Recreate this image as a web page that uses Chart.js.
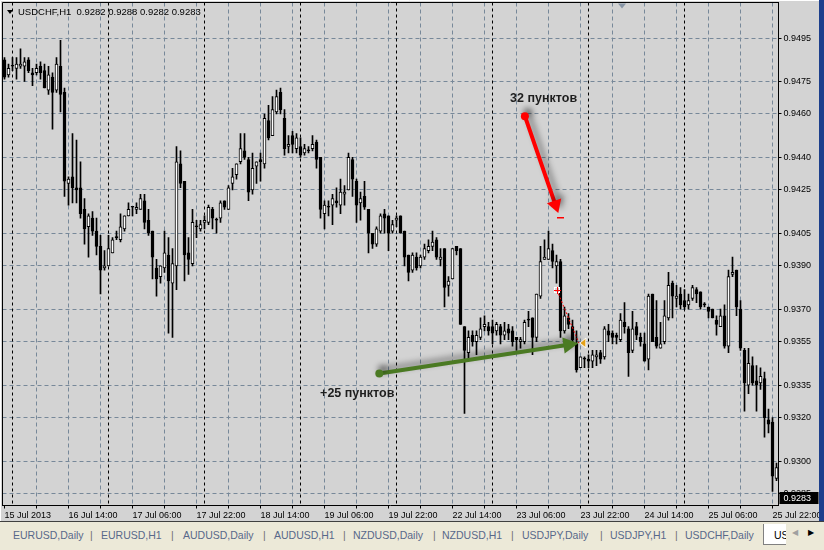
<!DOCTYPE html>
<html>
<head>
<meta charset="utf-8">
<script src="https://cdn.jsdelivr.net/npm/chart.js@4.4.0/dist/chart.umd.min.js"></script>
<style>
  html, body { margin: 0; padding: 0; width: 824px; height: 550px; overflow: hidden; background: #d3d3d3; font-family: "Liberation Sans", Arial, sans-serif; }
  #chartBox { position: absolute; left: 0; top: 0; width: 824px; height: 522px; }
  #edge { position: absolute; left: 819px; top: 0; width: 5px; height: 522px; background: #1c3f8c; }
  #tabs { position: absolute; left: 0; top: 521px; width: 824px; height: 29px; background: #ece9d8; border-top: 1px solid #404040; box-sizing: border-box; }
  #tabs span { position: absolute; top: 7px; font-size: 10.5px; color: #58688a; white-space: nowrap; }
  #tabs .sep { color: #6e6e6e; }
  #active { position: absolute; left: 763px; top: 2px; width: 40px; height: 20px; background: #fff; border: 1px solid #808080; border-top: none; overflow: hidden; }
  #active span { left: 10px; top: 5px; color: #000; }
  #arrows { position: absolute; left: 786px; top: 0; width: 38px; height: 24px; background: #ece9d8; }
  #arrows span { top: 6px; font-size: 8px; }
</style>
</head>
<body>
<div id="chartBox"><canvas id="chart" width="824" height="522"></canvas></div>
<div id="edge"></div>
<div id="tabs">
  <span style="left:13px">EURUSD,Daily</span><span class="sep" style="left:90px">|</span>
  <span style="left:101px">EURUSD,H1</span><span class="sep" style="left:171px">|</span>
  <span style="left:183px">AUDUSD,Daily</span><span class="sep" style="left:263px">|</span>
  <span style="left:274px">AUDUSD,H1</span><span class="sep" style="left:343px">|</span>
  <span style="left:353px">NZDUSD,Daily</span><span class="sep" style="left:433px">|</span>
  <span style="left:442px">NZDUSD,H1</span><span class="sep" style="left:511px">|</span>
  <span style="left:522px">USDJPY,Daily</span><span class="sep" style="left:600px">|</span>
  <span style="left:610px">USDJPY,H1</span><span class="sep" style="left:675px">|</span>
  <span style="left:685px">USDCHF,Daily</span>
  <div id="active"><span>USDCHF,H1</span></div>
  <div id="arrows"><span style="left:6px;color:#a0a0a0">&#9664;</span><span style="left:22px;color:#000">&#9654;</span></div>
</div>
<script>
// USDCHF H1, 15 Jul 22:00 .. 25 Jul 23:00 (one entry per hourly bar)
const xTickLabels = ['15 Jul 2013', '16 Jul 14:00', '17 Jul 06:00', '17 Jul 22:00', '18 Jul 14:00', '19 Jul 06:00',
  '19 Jul 22:00', '22 Jul 14:00', '23 Jul 06:00', '23 Jul 22:00', '24 Jul 14:00', '25 Jul 06:00', '25 Jul 22:00'];
const daySeparators = [2, 26, 50, 74, 98, 122, 146, 170];
const priceLevels = [0.9495, 0.9475, 0.9460, 0.9440, 0.9425, 0.9405, 0.9390, 0.9370, 0.9355, 0.9335, 0.9320, 0.9300, 0.9285];
const priceMin = 0.92795;
const priceMax = 0.95114;
const bid = 0.9283;
const header = 'USDCHF,H1  0.9282 0.9288 0.9282 0.9283';

const opens = [
  0.9485, 0.9478, 0.9482, 0.9481, 0.9482, 0.9482, 0.9485, 0.9479, 0.9479, 0.9482,
  0.9480, 0.9471, 0.9477, 0.9471, 0.9482, 0.9470, 0.9428, 0.9431, 0.9426, 0.9426,
  0.9416, 0.9408, 0.9412, 0.9406, 0.9399, 0.9389, 0.9390, 0.9396, 0.9403, 0.9402,
  0.9407, 0.9413, 0.9417, 0.9416, 0.9416, 0.9420, 0.9411, 0.9406, 0.9389, 0.9385,
  0.9389, 0.9395, 0.9382, 0.9390, 0.9437, 0.9429, 0.9396, 0.9391, 0.9408, 0.9407,
  0.9410, 0.9410, 0.9416, 0.9411, 0.9412, 0.9420, 0.9416, 0.9428, 0.9432, 0.9438,
  0.9443, 0.9439, 0.9425, 0.9436, 0.9439, 0.9437, 0.9457, 0.9450, 0.9461, 0.9470,
  0.9458, 0.9445, 0.9450, 0.9444, 0.9445, 0.9442, 0.9443, 0.9444, 0.9447, 0.9440,
  0.9414, 0.9417, 0.9418, 0.9420, 0.9418, 0.9423, 0.9425, 0.9439, 0.9429, 0.9419,
  0.9422, 0.9416, 0.9405, 0.9400, 0.9406, 0.9414, 0.9413, 0.9406, 0.9411, 0.9413,
  0.9406, 0.9395, 0.9388, 0.9394, 0.9390, 0.9394, 0.9397, 0.9399, 0.9402, 0.9393,
  0.9398, 0.9381, 0.9384, 0.9399, 0.9398, 0.9362, 0.9350, 0.9358, 0.9355, 0.9357,
  0.9362, 0.9362, 0.9362, 0.9360, 0.9362, 0.9358, 0.9361, 0.9360, 0.9357, 0.9355,
  0.9355, 0.9365, 0.9366, 0.9357, 0.9376, 0.9393, 0.9393, 0.9397, 0.9390, 0.9392,
  0.9360, 0.9366, 0.9362, 0.9354, 0.9343, 0.9347, 0.9347, 0.9346, 0.9348, 0.9350,
  0.9348, 0.9360, 0.9359, 0.9358, 0.9356, 0.9364, 0.9361, 0.9351, 0.9362, 0.9357,
  0.9354, 0.9347, 0.9377, 0.9357, 0.9352, 0.9355, 0.9366, 0.9382, 0.9375, 0.9377,
  0.9374, 0.9372, 0.9375, 0.9379, 0.9378, 0.9372, 0.9371, 0.9370, 0.9365, 0.9362,
  0.9367, 0.9353, 0.9386, 0.9388, 0.9370, 0.9351, 0.9335, 0.9344, 0.9337, 0.9336,
  0.9338, 0.9319, 0.9318, 0.9292
];
const highs = [
  0.9486, 0.9483, 0.9486, 0.9486, 0.9490, 0.9486, 0.9486, 0.9481, 0.9483, 0.9484,
  0.9483, 0.9482, 0.9479, 0.9486, 0.9494, 0.9472, 0.9431, 0.9451, 0.9448, 0.9438,
  0.9421, 0.9414, 0.9415, 0.9412, 0.9404, 0.9397, 0.9404, 0.9403, 0.9406, 0.9414,
  0.9413, 0.9419, 0.9417, 0.9419, 0.9423, 0.9423, 0.9416, 0.9406, 0.9393, 0.9390,
  0.9406, 0.9403, 0.9398, 0.9445, 0.9443, 0.9429, 0.9403, 0.9416, 0.9411, 0.9411,
  0.9413, 0.9418, 0.9417, 0.9412, 0.9420, 0.9420, 0.9427, 0.9435, 0.9437, 0.9451,
  0.9451, 0.9440, 0.9442, 0.9438, 0.9442, 0.9460, 0.9464, 0.9468, 0.9471, 0.9472,
  0.9462, 0.9450, 0.9452, 0.9451, 0.9449, 0.9446, 0.9445, 0.9450, 0.9448, 0.9440,
  0.9420, 0.9420, 0.9423, 0.9426, 0.9430, 0.9427, 0.9442, 0.9440, 0.9430, 0.9424,
  0.9429, 0.9416, 0.9405, 0.9408, 0.9414, 0.9416, 0.9413, 0.9411, 0.9413, 0.9413,
  0.9406, 0.9395, 0.9396, 0.9396, 0.9395, 0.9400, 0.9402, 0.9406, 0.9403, 0.9398,
  0.9398, 0.9385, 0.9398, 0.9399, 0.9398, 0.9362, 0.9360, 0.9360, 0.9360, 0.9366,
  0.9367, 0.9364, 0.9365, 0.9364, 0.9363, 0.9364, 0.9363, 0.9362, 0.9357, 0.9357,
  0.9365, 0.9369, 0.9366, 0.9377, 0.9399, 0.9402, 0.9406, 0.9400, 0.9395, 0.9393,
  0.9371, 0.9368, 0.9365, 0.9360, 0.9348, 0.9348, 0.9349, 0.9351, 0.9351, 0.9351,
  0.9362, 0.9363, 0.9360, 0.9359, 0.9368, 0.9373, 0.9362, 0.9369, 0.9364, 0.9359,
  0.9359, 0.9377, 0.9377, 0.9374, 0.9364, 0.9374, 0.9387, 0.9383, 0.9381, 0.9380,
  0.9379, 0.9377, 0.9381, 0.9380, 0.9378, 0.9373, 0.9371, 0.9370, 0.9367, 0.9370,
  0.9372, 0.9388, 0.9394, 0.9388, 0.9374, 0.9352, 0.9352, 0.9348, 0.9344, 0.9343,
  0.9341, 0.9324, 0.9320, 0.9299
];
const lows = [
  0.9476, 0.9477, 0.9480, 0.9476, 0.9481, 0.9475, 0.9479, 0.9473, 0.9478, 0.9476,
  0.9472, 0.9469, 0.9453, 0.9470, 0.9461, 0.9422, 0.9418, 0.9419, 0.9419, 0.9412,
  0.9400, 0.9394, 0.9404, 0.9395, 0.9377, 0.9388, 0.9390, 0.9396, 0.9402, 0.9401,
  0.9406, 0.9413, 0.9413, 0.9414, 0.9416, 0.9407, 0.9404, 0.9384, 0.9376, 0.9382,
  0.9387, 0.9359, 0.9357, 0.9379, 0.9426, 0.9383, 0.9386, 0.9390, 0.9403, 0.9406,
  0.9407, 0.9409, 0.9407, 0.9405, 0.9410, 0.9416, 0.9416, 0.9425, 0.9430, 0.9437,
  0.9439, 0.9420, 0.9423, 0.9428, 0.9429, 0.9435, 0.9448, 0.9450, 0.9460, 0.9460,
  0.9441, 0.9442, 0.9442, 0.9442, 0.9440, 0.9441, 0.9442, 0.9443, 0.9435, 0.9412,
  0.9407, 0.9413, 0.9409, 0.9417, 0.9414, 0.9418, 0.9425, 0.9422, 0.9410, 0.9411,
  0.9416, 0.9396, 0.9398, 0.9399, 0.9405, 0.9405, 0.9397, 0.9405, 0.9408, 0.9405,
  0.9390, 0.9383, 0.9387, 0.9388, 0.9389, 0.9393, 0.9396, 0.9397, 0.9393, 0.9390,
  0.9371, 0.9376, 0.9384, 0.9395, 0.9363, 0.9322, 0.9347, 0.9353, 0.9349, 0.9356,
  0.9360, 0.9358, 0.9354, 0.9358, 0.9354, 0.9356, 0.9356, 0.9353, 0.9351, 0.9352,
  0.9354, 0.9362, 0.9349, 0.9355, 0.9375, 0.9393, 0.9393, 0.9389, 0.9382, 0.9357,
  0.9359, 0.9361, 0.9355, 0.9341, 0.9343, 0.9343, 0.9343, 0.9343, 0.9344, 0.9345,
  0.9347, 0.9355, 0.9354, 0.9354, 0.9355, 0.9359, 0.9339, 0.9350, 0.9356, 0.9353,
  0.9346, 0.9342, 0.9355, 0.9352, 0.9352, 0.9354, 0.9365, 0.9366, 0.9371, 0.9370,
  0.9370, 0.9370, 0.9374, 0.9373, 0.9370, 0.9371, 0.9366, 0.9366, 0.9358, 0.9362,
  0.9352, 0.9350, 0.9385, 0.9367, 0.9351, 0.9323, 0.9331, 0.9335, 0.9323, 0.9333,
  0.9311, 0.9313, 0.9286, 0.9291
];
const closes = [
  0.9477, 0.9481, 0.9482, 0.9483, 0.9483, 0.9484, 0.9480, 0.9478, 0.9481, 0.9479,
  0.9472, 0.9478, 0.9470, 0.9483, 0.9469, 0.9429, 0.9430, 0.9426, 0.9425, 0.9414,
  0.9407, 0.9413, 0.9406, 0.9399, 0.9388, 0.9390, 0.9398, 0.9402, 0.9403, 0.9408,
  0.9413, 0.9416, 0.9417, 0.9417, 0.9421, 0.9410, 0.9405, 0.9394, 0.9384, 0.9390,
  0.9396, 0.9383, 0.9391, 0.9438, 0.9428, 0.9395, 0.9393, 0.9410, 0.9408, 0.9409,
  0.9411, 0.9417, 0.9412, 0.9411, 0.9419, 0.9417, 0.9426, 0.9431, 0.9437, 0.9444,
  0.9440, 0.9424, 0.9435, 0.9438, 0.9438, 0.9458, 0.9449, 0.9462, 0.9468, 0.9462,
  0.9444, 0.9446, 0.9446, 0.9449, 0.9441, 0.9444, 0.9443, 0.9446, 0.9439, 0.9416,
  0.9418, 0.9417, 0.9421, 0.9419, 0.9424, 0.9424, 0.9440, 0.9430, 0.9418, 0.9421,
  0.9417, 0.9405, 0.9400, 0.9407, 0.9413, 0.9412, 0.9405, 0.9409, 0.9412, 0.9405,
  0.9394, 0.9387, 0.9395, 0.9389, 0.9394, 0.9398, 0.9399, 0.9401, 0.9394, 0.9394,
  0.9380, 0.9383, 0.9398, 0.9397, 0.9363, 0.9351, 0.9357, 0.9355, 0.9358, 0.9361,
  0.9363, 0.9360, 0.9359, 0.9363, 0.9358, 0.9360, 0.9359, 0.9355, 0.9356, 0.9356,
  0.9364, 0.9365, 0.9357, 0.9377, 0.9392, 0.9394, 0.9398, 0.9392, 0.9392, 0.9360,
  0.9367, 0.9363, 0.9356, 0.9342, 0.9348, 0.9347, 0.9346, 0.9349, 0.9349, 0.9347,
  0.9361, 0.9358, 0.9357, 0.9357, 0.9365, 0.9362, 0.9350, 0.9361, 0.9358, 0.9355,
  0.9346, 0.9376, 0.9355, 0.9353, 0.9354, 0.9367, 0.9381, 0.9376, 0.9376, 0.9372,
  0.9371, 0.9374, 0.9380, 0.9377, 0.9371, 0.9372, 0.9369, 0.9366, 0.9363, 0.9367,
  0.9353, 0.9385, 0.9387, 0.9371, 0.9352, 0.9336, 0.9345, 0.9336, 0.9335, 0.9339,
  0.9320, 0.9317, 0.9293, 0.9297
];

// hand drawn marks on the screenshot, in bar index / price units
const redArrow = { from: [130.1, 0.94590], to: [138.45, 0.94143] };
const greenArrow = { from: [93.7, 0.93404], to: [143.45, 0.93543] };
const redNote = { text: '32 пунктов', at: [126.4, 0.94655] };
const greenNote = { text: '+25 пунктов', at: [78.9, 0.93295] };
const trendLine = { from: [138.1, 0.93788], to: [143.6, 0.93544] };

const barIndex = opens.map((_, i) => String(i));
const axisFont = { family: "'Liberation Sans', Arial, sans-serif", size: 9 };

function drawArrow(ctx, p1, p2, color, head, half) {
  const ang = Math.atan2(p2[1] - p1[1], p2[0] - p1[0]);
  const bx = p2[0] - head * Math.cos(ang), by = p2[1] - head * Math.sin(ang);
  ctx.save();
  ctx.shadowColor = 'rgba(0,0,0,0.45)';
  ctx.shadowBlur = 6;
  ctx.shadowOffsetX = 3;
  ctx.shadowOffsetY = -4;
  ctx.strokeStyle = color;
  ctx.fillStyle = color;
  ctx.lineWidth = 4;
  ctx.lineCap = 'round';
  ctx.beginPath();
  ctx.moveTo(p1[0], p1[1]);
  ctx.lineTo(bx, by);
  ctx.stroke();
  ctx.beginPath();
  ctx.moveTo(p2[0], p2[1]);
  ctx.lineTo(bx - half * Math.sin(ang), by + half * Math.cos(ang));
  ctx.lineTo(bx + half * Math.sin(ang), by - half * Math.cos(ang));
  ctx.closePath();
  ctx.fill();
  ctx.beginPath();
  ctx.arc(p1[0], p1[1], 4, 0, Math.PI * 2);
  ctx.fill();
  ctx.restore();
}

const mt4Look = {
  id: 'mt4Look',
  beforeDraw(chart) {
    const { ctx } = chart;
    ctx.save();
    ctx.fillStyle = '#d3d3d3';
    ctx.fillRect(0, 0, chart.width, chart.height);
    ctx.restore();
  },
  beforeDatasetsDraw(chart) {
    const { ctx, chartArea: a, scales: { x, y } } = chart;
    ctx.save();
    ctx.beginPath();
    ctx.rect(a.left, a.top, a.right - a.left, a.bottom - a.top);
    ctx.clip();
    ctx.lineWidth = 1;
    ctx.strokeStyle = '#778899';
    ctx.setLineDash([4, 3]);
    ctx.beginPath();
    priceLevels.forEach(v => {
      const py = Math.floor(y.getPixelForValue(v)) + 0.5;
      ctx.moveTo(a.left, py);
      ctx.lineTo(a.right, py);
    });
    for (let i = 8; i < opens.length; i += 8) {
      const px = Math.floor(x.getPixelForValue(i)) + 0.5;
      ctx.moveTo(px, a.top);
      ctx.lineTo(px, a.bottom);
    }
    ctx.stroke();
    ctx.strokeStyle = '#000';
    ctx.setLineDash([3, 3]);
    ctx.beginPath();
    daySeparators.forEach(i => {
      const px = Math.floor(x.getPixelForValue(i)) + 0.5;
      ctx.moveTo(px, a.top);
      ctx.lineTo(px, a.bottom);
    });
    ctx.stroke();
    ctx.restore();
  },
  afterDatasetsDraw(chart) {
    const { ctx, chartArea: a, scales: { x, y } } = chart;
    const pt = p => [x.getPixelForValue(p[0]), y.getPixelForValue(p[1])];
    ctx.save();
    ctx.beginPath();
    ctx.rect(a.left, a.top, a.right - a.left, a.bottom - a.top);
    ctx.clip();

    // red dotted line with its end markers
    const t1 = pt(trendLine.from), t2 = pt(trendLine.to);
    ctx.strokeStyle = '#ff0000';
    ctx.lineWidth = 1;
    ctx.setLineDash([2, 2]);
    ctx.beginPath();
    ctx.moveTo(t1[0], t1[1]);
    ctx.lineTo(t2[0], t2[1]);
    ctx.stroke();
    ctx.setLineDash([]);
    ctx.strokeStyle = '#fff';
    ctx.strokeRect(Math.round(t1[0]) - 2.5, Math.round(t1[1]) - 2.5, 5, 5);
    ctx.strokeStyle = '#ff0000';
    ctx.beginPath();
    ctx.moveTo(Math.round(t1[0]) - 3, Math.round(t1[1]) + 0.5);
    ctx.lineTo(Math.round(t1[0]) + 4, Math.round(t1[1]) + 0.5);
    ctx.moveTo(Math.round(t1[0]) + 0.5, Math.round(t1[1]) - 3);
    ctx.lineTo(Math.round(t1[0]) + 0.5, Math.round(t1[1]) + 4);
    ctx.stroke();
    ctx.fillStyle = '#e8a317';
    ctx.strokeStyle = '#fff';
    ctx.beginPath();
    ctx.moveTo(t2[0] + 1, t2[1]);
    ctx.lineTo(t2[0] + 7, t2[1] - 5);
    ctx.lineTo(t2[0] + 7, t2[1] + 5);
    ctx.closePath();
    ctx.fill();
    ctx.stroke();

    // little red dash under the red arrow
    const d = pt([138.0, 0.94124]);
    ctx.fillStyle = '#ff0000';
    ctx.fillRect(Math.round(d[0]), Math.round(d[1]), 7, 1.5);

    drawArrow(ctx, pt(redArrow.from), pt(redArrow.to), '#ff0000', 13, 7.5);
    drawArrow(ctx, pt(greenArrow.from), pt(greenArrow.to), '#4b7a23', 15, 8);

    ctx.fillStyle = '#1e1e1e';
    ctx.font = "bold 12.5px 'Liberation Sans', Arial, sans-serif";
    ctx.textBaseline = 'alphabetic';
    [redNote, greenNote].forEach(n => {
      const p = pt(n.at);
      ctx.fillText(n.text, p[0], p[1]);
    });
    ctx.restore();
  },
  afterDraw(chart) {
    const { ctx, chartArea: a, scales: { x, y } } = chart;
    ctx.save();
    // frame
    ctx.strokeStyle = '#000';
    ctx.lineWidth = 1;
    ctx.beginPath();
    ctx.moveTo(a.left, a.bottom);
    ctx.lineTo(a.left, a.top);
    ctx.lineTo(a.right, a.top);
    ctx.stroke();
    ctx.strokeStyle = '#ffffff';
    ctx.beginPath();
    ctx.moveTo(0.5, 522);
    ctx.lineTo(0.5, 0.5);
    ctx.lineTo(819, 0.5);
    ctx.stroke();

    // chart shift marker
    const sx = Math.round(x.getPixelForValue(154.4));
    ctx.fillStyle = '#8795a6';
    ctx.beginPath();
    ctx.moveTo(sx - 4, a.top + 1);
    ctx.lineTo(sx + 4, a.top + 1);
    ctx.lineTo(sx, a.top + 6);
    ctx.closePath();
    ctx.fill();

    // header line
    ctx.fillStyle = '#000';
    ctx.beginPath();
    ctx.moveTo(7, 10);
    ctx.lineTo(13, 10);
    ctx.lineTo(10, 14);
    ctx.closePath();
    ctx.fill();
    ctx.font = "9.5px 'Liberation Sans', Arial, sans-serif";
    ctx.textBaseline = 'alphabetic';
    ctx.fillText(header, 18, 15);

    // current price box
    const by = Math.round(y.getPixelForValue(bid));
    ctx.fillStyle = '#000';
    ctx.fillRect(a.right + 1, by - 6, 39, 12);
    ctx.fillStyle = '#fff';
    ctx.font = "9px 'Liberation Sans', Arial, sans-serif";
    ctx.textBaseline = 'middle';
    ctx.fillText(bid.toFixed(4), a.right + 5, by + 0.5);
    ctx.restore();
  }
};

new Chart(document.getElementById('chart'), {
  type: 'bar',
  plugins: [mt4Look],
  data: {
    labels: barIndex,
    datasets: [
      {
        label: 'body',
        data: opens.map((o, i) => [o, closes[i]]),
        backgroundColor: opens.map((o, i) => closes[i] > o ? '#ffffff' : '#000000'),
        borderColor: '#000000',
        borderWidth: 1,
        borderSkipped: false,
        barThickness: 3,
        minBarLength: 1,
        grouped: false
      },
      {
        label: 'wick',
        data: lows.map((l, i) => [l, highs[i]]),
        backgroundColor: '#000000',
        borderWidth: 0,
        barThickness: 1,
        grouped: false
      }
    ]
  },
  options: {
    responsive: false,
    animation: false,
    devicePixelRatio: 1,
    layout: { padding: { left: 2.5, top: 2.5, right: 6, bottom: 0 } },
    plugins: { legend: { display: false }, tooltip: { enabled: false } },
    scales: {
      x: {
        type: 'category',
        offset: true,
        grid: {
          offset: false,
          drawOnChartArea: false,
          tickLength: 3,
          tickColor: c => c.index % 8 === 0 ? '#000' : 'rgba(0,0,0,0)'
        },
        border: { display: true, color: '#000' },
        ticks: {
          autoSkip: false,
          maxRotation: 0,
          minRotation: 0,
          align: 'start',
          padding: 2,
          color: '#000',
          font: axisFont,
          callback: (v, i) => i % 16 === 0 ? (xTickLabels[i / 16] || '') : ''
        },
        afterFit(s) { s.height = 16.5; s.paddingLeft = 0; s.paddingRight = 0; }
      },
      y: {
        position: 'right',
        min: priceMin,
        max: priceMax,
        grid: { drawOnChartArea: false, tickLength: 3, tickColor: '#000' },
        border: { display: true, color: '#000' },
        ticks: {
          padding: 2,
          color: '#000',
          font: axisFont,
          callback: v => Number(v).toFixed(4)
        },
        afterBuildTicks(s) { s.ticks = priceLevels.map(v => ({ value: v })); },
        afterFit(s) { s.width = 39.5; s.paddingTop = 0; s.paddingBottom = 0; }
      }
    }
  }
});
</script>
</body>
</html>
